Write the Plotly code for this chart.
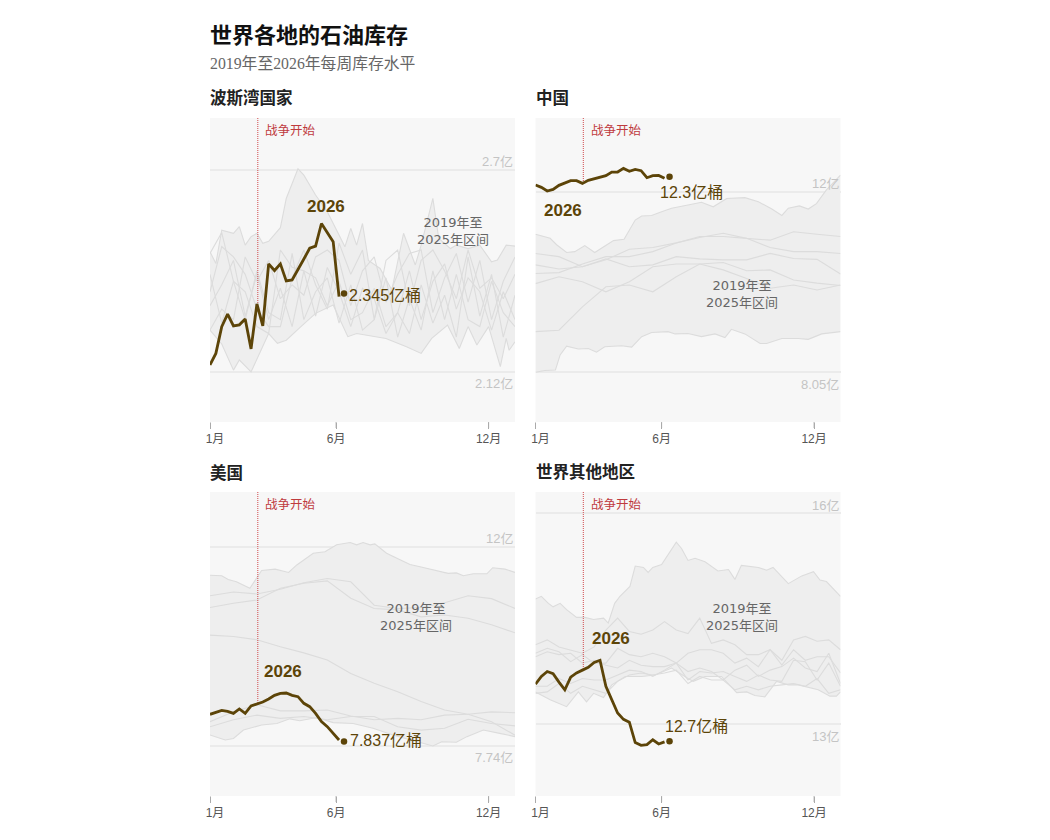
import plotly.graph_objects as go
from plotly.subplots import make_subplots

TICK_WEEKS = [0, 21.5, 47.5]
TICK_LABELS = ["\u00a0\u00a0\u00a01月", "6月", "12月"]
WAR_WEEK = 8.15
WEEKS_2026 = list(range(23))
LAST_WEEK = 22.85
WEEKS_2 = list(range(0, 53, 2))
WEEKS_4 = list(range(0, 53, 4))

# --- 波斯湾国家
GULF_2026 = [2.140, 2.173, 2.250, 2.286, 2.252, 2.255, 2.272, 2.186, 2.315, 2.252, 2.430, 2.411,
             2.430, 2.381, 2.384, 2.416, 2.444, 2.475, 2.481, 2.546, 2.519, 2.494, 2.336]
GULF_LAST = 2.345
GULF_TOP_W = [0, 1, 2, 4, 5, 6, 7, 8, 9, 10, 12, 13, 15, 16, 18, 20, 22, 23, 24, 25, 26, 27, 29, 31,
              33, 35, 36, 38, 39, 41, 42, 44, 46, 48, 49, 50.5, 52]
GULF_TOP = [2.465, 2.431, 2.527, 2.518, 2.537, 2.484, 2.508, 2.518, 2.489, 2.495, 2.534, 2.618, 2.703,
            2.685, 2.628, 2.580, 2.513, 2.479, 2.532, 2.484, 2.546, 2.44, 2.417, 2.355, 2.518, 2.427,
            2.484, 2.618, 2.503, 2.474, 2.484, 2.474, 2.484, 2.436, 2.441, 2.484, 2.481]
GULF_LOW_W = [0, 2, 4, 5, 7, 8.5, 10, 11.5, 13, 15.5, 18, 21, 23.5, 25, 28, 30, 33.5, 36, 37.8, 40.5,
              42.5, 44, 45.5, 47.5, 49.5, 50.5, 51, 52]
GULF_LOW = [2.24, 2.20, 2.125, 2.154, 2.120, 2.173, 2.230, 2.202, 2.211, 2.250, 2.288, 2.312, 2.221,
            2.230, 2.221, 2.216, 2.192, 2.173, 2.216, 2.254, 2.187, 2.25, 2.197, 2.25, 2.135, 2.216,
            2.182, 2.206]
GULF_A = [2.31, 2.37, 2.44, 2.28, 2.40, 2.27, 2.36, 2.25, 2.41, 2.28, 2.42, 2.35, 2.25, 2.36, 2.33,
          2.23, 2.29, 2.41, 2.27, 2.38, 2.43, 2.30, 2.39, 2.35, 2.24, 2.35, 2.27]
GULF_B = [2.40, 2.26, 2.38, 2.35, 2.25, 2.23, 2.47, 2.42, 2.41, 2.39, 2.31, 2.38, 2.27, 2.29, 2.36,
          2.25, 2.29, 2.23, 2.37, 2.26, 2.34, 2.22, 2.45, 2.28, 2.40, 2.22, 2.34]
GULF_C = [2.46, 2.52, 2.38, 2.27, 2.41, 2.29, 2.27, 2.46, 2.27, 2.35, 2.39, 2.26, 2.37, 2.24, 2.27,
          2.39, 2.22, 2.33, 2.24, 2.41, 2.27, 2.40, 2.27, 2.25, 2.38, 2.29, 2.25]
GULF_D = [2.24, 2.30, 2.27, 2.45, 2.38, 2.44, 2.33, 2.37, 2.34, 2.45, 2.47, 2.44, 2.31, 2.41, 2.45,
          2.32, 2.40, 2.46, 2.47, 2.29, 2.39, 2.46, 2.32, 2.44, 2.27, 2.38, 2.45]
GULF_E = [2.35, 2.48, 2.45, 2.40, 2.30, 2.25, 2.25, 2.39, 2.47, 2.37, 2.30, 2.49, 2.40, 2.47, 2.27,
          2.44, 2.47, 2.31, 2.44, 2.47, 2.41, 2.33, 2.47, 2.36, 2.39, 2.33, 2.40]

# --- 中国
CHINA_2026 = [12.146, 12.095, 12.015, 12.051, 12.139, 12.182, 12.241, 12.241, 12.182, 12.248, 12.277,
              12.321, 12.350, 12.430, 12.430, 12.510, 12.445, 12.488, 12.459, 12.306, 12.350, 12.357, 12.292]
CHINA_LAST = 12.328
CHINA_TOP_W = [0, 2.5, 3.6, 5.3, 6.7, 8.4, 10.1, 11.6, 13.3, 15.1, 17, 18.1, 19.8, 21.5, 23.2, 26, 28.3,
               30.3, 32.6, 35.7, 38, 40.3, 42, 43.1, 45, 46.5, 47.9, 49.6, 52]
CHINA_TOP = [11.07, 10.98, 10.84, 10.67, 10.69, 10.82, 10.67, 10.80, 10.93, 10.96, 11.38, 11.47, 11.48,
             11.56, 11.64, 11.71, 11.77, 11.67, 11.85, 11.87, 11.78, 11.62, 11.48, 11.64, 11.69, 11.62,
             11.74, 12.04, 12.36]
CHINA_LOW_W = [0, 1.6, 3.4, 4.2, 5.3, 7.3, 9, 10.4, 11.8, 14.7, 16.4, 18.1, 19.8, 22.6, 23.8, 26, 28.3,
               30.6, 32.3, 33.4, 35.7, 38.3, 39.4, 42, 44.8, 46.5, 48.8, 52]
CHINA_LOW = [8.05, 8.09, 8.10, 8.43, 8.62, 8.56, 8.57, 8.49, 8.61, 8.63, 8.60, 8.83, 8.92, 8.94, 8.89,
             8.90, 8.83, 8.89, 8.81, 8.99, 8.89, 8.68, 8.68, 8.79, 8.79, 8.77, 8.89, 8.94]
CHINA_A = [10.65, 10.58, 10.36, 10.51, 10.74, 10.78, 10.88, 11.00, 11.09, 10.98, 10.94, 11.125, 11.07, 11.02]
CHINA_B = [10.21, 10.23, 10.42, 10.58, 10.58, 10.69, 10.88, 11.02, 11.02, 10.98, 10.78, 10.69, 10.69, 10.65]
CHINA_C = [10.40, 10.31, 10.36, 10.53, 10.36, 10.40, 10.58, 10.53, 10.51, 10.51, 10.65, 10.54, 10.52, 10.20]
CHINA_D = [9.99, 10.14, 10.03, 9.81, 10.03, 10.36, 10.42, 10.42, 10.29, 10.10, 9.89, 9.96, 9.85, 9.96]
CHINA_E = [8.94, 8.97, 9.48, 9.92, 9.96, 9.81, 10.14, 10.42, 10.45, 10.27, 10.29, 10.07, 10.00, 9.95]

# --- 美国
US_2026 = [8.417, 8.459, 8.502, 8.481, 8.438, 8.531, 8.438, 8.595, 8.637, 8.680, 8.744, 8.823, 8.865,
           8.873, 8.823, 8.794, 8.652, 8.580, 8.438, 8.260, 8.153, 8.011, 7.868]
US_LAST = 7.837
US_TOP_W = [0, 2, 3.1, 4.5, 6.8, 7.7, 8.8, 11.1, 13.4, 14.8, 17.6, 19.6, 21.6, 23.9, 25, 26.1, 27.3, 28.1,
            30.1, 32.4, 34.1, 35.8, 38.1, 40.6, 42, 43.2, 44.9, 47.2, 48.2, 50.3, 52]
US_TOP = [11.39, 11.38, 11.30, 11.25, 11.11, 11.29, 11.49, 11.52, 11.45, 11.61, 11.86, 11.89, 12.04, 12.09,
          12.04, 12.09, 12.04, 12.06, 11.86, 11.72, 11.62, 11.57, 11.50, 11.43, 11.44, 11.38, 11.42, 11.42,
          11.55, 11.52, 11.45]
US_LOW_W = [0, 2.6, 4, 5.7, 8.8, 11.4, 13.6, 15.3, 18.2, 21, 24.4, 27.8, 31.3, 34.7, 38, 39.5, 42, 43.8,
            46.6, 49.4, 52]
US_LOW = [7.975, 7.868, 7.90, 8.08, 8.19, 8.22, 8.32, 8.28, 8.35, 8.24, 8.22, 8.12, 7.97, 7.85, 7.74, 7.83,
          7.82, 7.94, 8.08, 8.01, 7.94]
US_A = [10.95, 11.03, 10.99, 11.09, 11.23, 11.32, 11.25, 10.75, 10.68, 10.70, 10.80, 10.95, 10.89, 10.68]
US_B = [10.70, 10.79, 10.86, 11.11, 11.22, 11.27, 10.90, 10.68, 10.65, 10.50, 10.54, 10.47, 10.33, 10.16]
US_C = [10.11, 10.08, 10.01, 9.86, 9.73, 9.58, 9.29, 9.08, 8.90, 8.69, 8.51, 8.42, 8.26, 7.97]
US_D = [8.26, 8.47, 8.62, 8.49, 8.49, 8.51, 8.38, 8.30, 8.33, 8.30, 8.40, 8.42, 8.47, 8.45]
US_E = [8.15, 8.30, 8.40, 8.33, 8.37, 8.30, 8.37, 8.37, 8.15, 8.08, 8.12, 8.31, 8.22, 8.17]

# --- 世界其他地区
ROW_2026 = [13.57, 13.68, 13.75, 13.72, 13.60, 13.49, 13.67, 13.73, 13.77, 13.81, 13.88, 13.91, 13.54,
            13.35, 13.16, 13.07, 13.03, 12.74, 12.70, 12.71, 12.78, 12.72, 12.75]
ROW_LAST = 12.76
ROW_TOP_W = [0, 1, 2.2, 3, 4.2, 5.3, 7, 8.4, 9.9, 11.6, 12.4, 13.5, 14.4, 16.1, 17, 18.4, 19.2, 20, 21.5, 24,
             24.9, 26, 27.2, 28.9, 31.1, 32.9, 34, 35.1, 38, 39.4, 40.5, 43.1, 45.4, 47.4, 48.5, 49.6, 52]
ROW_TOP = [14.78, 14.82, 14.72, 14.67, 14.72, 14.63, 14.52, 14.52, 14.49, 14.51, 14.44, 14.72, 14.82, 14.96,
           15.25, 15.23, 15.16, 15.23, 15.27, 15.59, 15.50, 15.33, 15.36, 15.31, 15.18, 15.20, 15.06, 15.26,
           15.23, 15.19, 15.23, 15.00, 15.11, 15.17, 15.05, 15.03, 14.82]
ROW_LOW_W = [0, 2.5, 5.3, 7.3, 8.7, 9.9, 11.6, 13, 15.3, 18.1, 20.4, 23.2, 26, 26.9, 28.9, 31.7, 34.3, 36, 37.4,
             39.1, 41.1, 43.1, 44.8, 48.2, 50.2, 51.3, 52]
ROW_LOW = [13.46, 13.35, 13.25, 13.46, 13.32, 13.44, 13.38, 13.56, 13.68, 13.68, 13.70, 13.80, 13.65, 13.61,
           13.68, 13.68, 13.45, 13.46, 13.41, 13.39, 13.61, 13.56, 13.56, 13.49, 13.40, 13.40, 13.46]
ROW_A = [14.13, 14.20, 14.10, 14.06, 14.01, 14.10, 14.34, 14.51, 14.32, 14.28, 14.34, 14.46, 14.34, 14.29,
         14.51, 14.15, 14.20, 14.13, 13.99, 13.99, 14.06, 13.91, 14.20, 14.25, 14.18, 14.20, 14.06]
ROW_B = [14.01, 14.08, 14.03, 13.89, 13.99, 13.87, 13.87, 14.08, 13.99, 13.96, 14.01, 13.96, 13.87, 14.01,
         14.06, 14.06, 14.01, 13.87, 13.94, 13.82, 14.06, 13.84, 14.06, 13.91, 13.96, 13.96, 13.73]
ROW_C = [13.96, 14.03, 13.99, 14.01, 13.87, 13.91, 13.84, 13.80, 13.91, 13.84, 13.82, 13.82, 13.87, 13.75,
         13.80, 13.75, 13.63, 13.77, 13.84, 13.68, 13.77, 13.82, 13.94, 13.80, 13.75, 14.01, 13.58]
ROW_D = [13.54, 13.54, 13.65, 13.58, 13.65, 13.63, 13.63, 13.70, 13.77, 13.75, 13.68, 13.77, 13.87, 13.63,
         13.75, 13.73, 13.75, 13.68, 13.61, 13.70, 13.63, 13.61, 13.91, 13.89, 13.63, 13.87, 13.54]
ROW_E = [13.44, 13.46, 13.58, 13.44, 13.54, 13.49, 13.44, 13.61, 13.70, 13.73, 13.70, 13.73, 13.77, 13.58,
         13.68, 13.63, 13.63, 13.49, 13.54, 13.49, 13.54, 13.56, 13.58, 13.54, 13.65, 13.44, 13.49]

SANS = "Liberation Sans, Noto Sans CJK SC, sans-serif"
WIDE = "DejaVu Sans, Noto Sans CJK SC, sans-serif"
BROWN = "#5c4408"
WAR_RED = "#d0494c"
WAR_TEXT = "#bf3b3e"

PANELS = [
    dict(title="波斯湾国家", row=1, col=1, now=GULF_2026, last=GULF_LAST, weeks=WEEKS_2,
         top_w=GULF_TOP_W, top=GULF_TOP, low_w=GULF_LOW_W, low=GULF_LOW,
         years=[GULF_A, GULF_B, GULF_C, GULF_D, GULF_E],
         refs=[2.12, 2.7], ref_labels=["2.12亿", "2.7亿"], yrange=[1.976, 2.849], last_label="2.345亿桶",
         label_xy=(349, 295), year_xy=(325.5, 207), band_xy=(453, 231)),
    dict(title="中国", row=1, col=2, now=CHINA_2026, last=CHINA_LAST, weeks=WEEKS_4,
         top_w=CHINA_TOP_W, top=CHINA_TOP, low_w=CHINA_LOW_W, low=CHINA_LOW,
         years=[CHINA_A, CHINA_B, CHINA_C, CHINA_D, CHINA_E],
         refs=[8.05, 12], ref_labels=["8.05亿", "12亿"], yrange=[6.963, 13.612], last_label="12.3亿桶",
         label_xy=(660, 192), year_xy=(563, 210), band_xy=(741.5, 294)),
    dict(title="美国", row=2, col=1, now=US_2026, last=US_LAST, weeks=WEEKS_4,
         top_w=US_TOP_W, top=US_TOP, low_w=US_LOW_W, low=US_LOW,
         years=[US_A, US_B, US_C, US_D, US_E],
         refs=[7.74, 12], ref_labels=["7.74亿", "12亿"], yrange=[6.671, 13.169], last_label="7.837亿桶",
         label_xy=(350, 740), year_xy=(283, 671), band_xy=(416, 617)),
    dict(title="世界其他地区", row=2, col=2, now=ROW_2026, last=ROW_LAST, weeks=WEEKS_2,
         top_w=ROW_TOP_W, top=ROW_TOP, low_w=ROW_LOW_W, low=ROW_LOW,
         years=[ROW_A, ROW_B, ROW_C, ROW_D, ROW_E],
         refs=[13, 16], ref_labels=["13亿", "16亿"], yrange=[11.98, 16.303], last_label="12.7亿桶",
         label_xy=(665, 726), year_xy=(611, 638), band_xy=(741.5, 617)),
]

# the page body has an 8px margin, so positions below are window pixels minus 8
W, H = 1034, 824


def fx(px):
    return (px - 8) / W


def fy(py):
    return 1 - (py - 8) / H


def note(fig, px, py, text, size, color, anchor="left", family=SANS):
    fig.add_annotation(x=fx(px), y=fy(py), xref="paper", yref="paper", text=text, showarrow=False,
                       xanchor=anchor, yanchor="middle", align="center", borderpad=0, borderwidth=0,
                       font=dict(family=family, size=size, color=color))


fig = make_subplots(rows=2, cols=2)
note(fig, 210, 36, "<b>世界各地的石油库存</b>", 22, "#111111")
note(fig, 210, 63, "2019年至2026年每周库存水平", 15.8, "#666666", family="Liberation Serif, Noto Sans CJK SC, serif")

for p in PANELS:
    r, c = p["row"], p["col"]
    left = 210 if c == 1 else 535.5
    top_px = 118 if r == 1 else 492
    suffix = "" if (r, c) == (1, 1) else str(2 * (r - 1) + c)
    fig.update_xaxes(row=r, col=c, domain=[fx(left), fx(left + 305)], range=[0, 52], showgrid=False,
                     zeroline=False, showline=False, tickmode="array", tickvals=TICK_WEEKS, ticktext=TICK_LABELS,
                     ticks="outside", ticklen=6, tickcolor="#aaaaaa", tickwidth=1,
                     tickfont=dict(family=SANS, size=12, color="#555555"))
    fig.update_yaxes(row=r, col=c, domain=[fy(top_px + 304), fy(top_px)], range=p["yrange"], showgrid=True,
                     gridcolor="#ebebeb", gridwidth=1.5, zeroline=False, showline=False, tickmode="array",
                     tickvals=p["refs"], showticklabels=False, ticks="")
    # tick marks did not come through from the axis alone
    for t in TICK_WEEKS:
        fig.add_shape(type="line", xref="x" + suffix, yref="y%s domain" % suffix, x0=t, x1=t, y0=0, y1=-6 / 304,
                      line=dict(color="#aaaaaa", width=1))

    # band, then the individual years
    band_x = p["top_w"] + p["low_w"][::-1]
    band_y = p["top"] + p["low"][::-1]
    fig.add_trace(go.Scatter(x=band_x, y=band_y, fill="toself", fillcolor="#eeeeee", mode="none",
                             hoverinfo="skip"), row=r, col=c)
    for vals in p["years"]:
        fig.add_trace(go.Scatter(x=p["weeks"], y=vals, mode="lines", line=dict(color="#dcdcdc", width=1.1),
                                 hoverinfo="skip"), row=r, col=c)
    fig.add_trace(go.Scatter(x=p["top_w"], y=p["top"], mode="lines", line=dict(color="#dcdcdc", width=1.1),
                             hoverinfo="skip"), row=r, col=c)
    fig.add_trace(go.Scatter(x=p["low_w"], y=p["low"], mode="lines", line=dict(color="#dcdcdc", width=1.1),
                             hoverinfo="skip"), row=r, col=c)

    # war marker runs from the top of the panel down to the 2026 line
    fig.add_trace(go.Scatter(x=[WAR_WEEK, WAR_WEEK], y=[p["yrange"][1], p["now"][8]], mode="lines",
                             line=dict(color=WAR_RED, width=1, dash="1px,1px"), hoverinfo="skip"), row=r, col=c)
    fig.add_trace(go.Scatter(x=WEEKS_2026, y=p["now"], mode="lines", line=dict(color=BROWN, width=2.8),
                             hoverinfo="skip"), row=r, col=c)
    fig.add_trace(go.Scatter(x=[LAST_WEEK], y=[p["last"]], mode="markers", marker=dict(color=BROWN, size=6.5),
                             hoverinfo="skip"), row=r, col=c)

    note(fig, left, top_px - 20, "<b>%s</b>" % p["title"], 16.5, "#222222")
    note(fig, left + 55, top_px + 13, "战争开始", 12.5, WAR_TEXT)
    note(fig, p["label_xy"][0], p["label_xy"][1], p["last_label"], 16, BROWN)
    note(fig, p["year_xy"][0], p["year_xy"][1], "<b>2026</b>", 17, BROWN, anchor="center")
    note(fig, p["band_xy"][0], p["band_xy"][1], "2019年至<br>2025年区间", 13, "#666666", anchor="center", family=WIDE)

    # reference labels: lower one below its line, upper one above
    for val, lab, shift in zip(p["refs"], p["ref_labels"], [-12, 8]):
        fig.add_annotation(x=fx(left + 303), y=val, xref="paper", yref="y" + suffix, text=lab, showarrow=False,
                           xanchor="right", yanchor="middle", yshift=shift, borderpad=0, borderwidth=0,
                           font=dict(family=SANS, size=13, color="#c4c4c4"))

fig.update_layout(width=W, height=H, margin=dict(l=0, r=0, t=0, b=0, autoexpand=False), paper_bgcolor="white",
                  plot_bgcolor="#f7f7f7", showlegend=False, font=dict(family=SANS))
fig.write_html("out.html")
